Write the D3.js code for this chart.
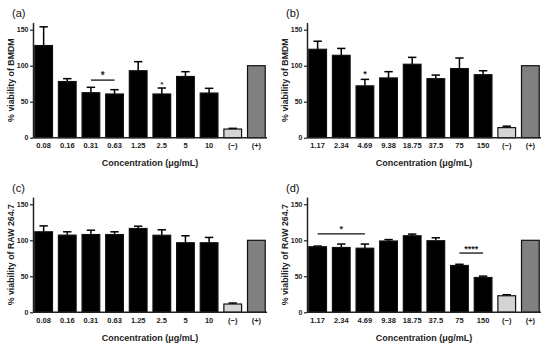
<!DOCTYPE html>
<html>
<head>
<meta charset="utf-8">
<script src="https://cdn.jsdelivr.net/npm/d3@7/dist/d3.min.js"></script>
<style>
  body { margin: 0; background: #fff; }
  svg { display: block; font-family: "Liberation Sans", Arial, sans-serif; }
</style>
</head>
<body>
<script>
// categories
var concLow = ["0.08", "0.16", "0.31", "0.63", "1.25", "2.5", "5", "10", "(\u2212)", "(+)"];
var concHigh = ["1.17", "2.34", "4.69", "9.38", "18.75", "37.5", "75", "150", "(\u2212)", "(+)"];
var yTicks = [0, 50, 100, 150];

// (a) BMDM, low concentrations
var meanA = [128, 78, 62.5, 60.7, 93, 60.7, 85, 62, 12, 100];
var semA  = [26, 4, 7.5, 6, 12.6, 8.3, 6.7, 6.6, 1, 0];
// (b) BMDM, high concentrations
var meanB = [122.8, 114.4, 72, 83, 102, 82, 96, 87.5, 14, 100];
var semB  = [11.2, 9.6, 9, 8.7, 9.6, 5, 14.7, 5.5, 2, 0];
// (c) RAW 264.7, low concentrations
var meanC = [111.8, 107.2, 108, 108, 116.4, 107, 96.6, 96.6, 11.5, 100];
var semC  = [8.2, 4.6, 6, 3.8, 3.2, 7.6, 9.7, 7.4, 1.4, 0];
// (d) RAW 264.7, high concentrations
var meanD = [91, 90, 89, 99, 106.3, 99.4, 65, 48.3, 23, 100];
var semD  = [1, 4.8, 5.8, 2, 2.3, 4.1, 1.7, 1.9, 1.4, 0];

// significance marks (y in % viability)
var sigA = [{from: "0.31", to: "0.63", y: 80, label: "*", size: 10},
            {from: "2.5", to: "2.5", y: 74, label: "*", size: 7}];
var sigB = [{from: "4.69", to: "4.69", y: 88, label: "*", size: 9}];
var sigC = [];
var sigD = [{from: "1.17", to: "4.69", y: 109, label: "*", size: 9},
            {from: "75", to: "150", y: 82.3, label: "****", size: 9}];

var width = 550, height = 345;
var svg = d3.select("body").append("svg")
  .attr("width", width)
  .attr("height", height);

var plotLeft = 33, plotRight = 267, plotTop = 22.5, plotBottom = 137.7;

function fillFor(c) {
  if (c == "(\u2212)") return "#d4d4d4";
  if (c == "(+)") return "#808080";
  return "#000";
}

function drawPanel(dx, dy, tag, cats, means, sems, sigs, yLabel) {
  var g = svg.append("g").attr("transform", "translate(" + dx + "," + dy + ")");

  var x = d3.scaleBand().domain(cats).range([plotLeft, plotRight])
    .paddingInner(0.2).paddingOuter(0.05);
  var y = d3.scaleLinear().domain([0, 160]).range([plotBottom, plotTop]);

  var rows = cats.map(function(c, i) { return {c: c, m: means[i], s: sems[i]}; });

  // error bars (upper only)
  var eb = g.selectAll(".eb").data(rows.filter(function(d) { return d.s > 0; }))
    .enter().append("g").attr("class", "eb");
  eb.append("line")
    .attr("x1", function(d) { return x(d.c) + x.bandwidth() / 2; })
    .attr("x2", function(d) { return x(d.c) + x.bandwidth() / 2; })
    .attr("y1", function(d) { return y(d.m); })
    .attr("y2", function(d) { return y(d.m + d.s); })
    .attr("stroke", "#000").attr("stroke-width", 1.5);
  eb.append("line")
    .attr("x1", function(d) { return x(d.c) + x.bandwidth() / 2 - 4.2; })
    .attr("x2", function(d) { return x(d.c) + x.bandwidth() / 2 + 4.2; })
    .attr("y1", function(d) { return y(d.m + d.s); })
    .attr("y2", function(d) { return y(d.m + d.s); })
    .attr("stroke", "#000").attr("stroke-width", 1.5);

  // bars
  g.selectAll(".bar").data(rows).enter().append("rect")
    .attr("class", "bar")
    .attr("x", function(d) { return x(d.c) + 0.6; })
    .attr("width", x.bandwidth() - 1.2)
    .attr("y", function(d) { return y(d.m); })
    .attr("height", function(d) { return y(0) - y(d.m); })
    .attr("fill", function(d) { return fillFor(d.c); })
    .attr("stroke", "#111")
    .attr("stroke-width", 1.2);

  // y axis
  var ya = g.append("g").attr("transform", "translate(" + plotLeft + ",0)")
    .call(d3.axisLeft(y).tickValues(yTicks).tickSize(3).tickSizeOuter(0).tickPadding(1.5));
  ya.select(".domain").attr("stroke", "#222").attr("stroke-width", 1.5);
  ya.selectAll(".tick line").attr("stroke", "#222").attr("stroke-width", 1.2);
  ya.selectAll(".tick text").attr("font-size", 7).attr("font-weight", "bold").attr("fill", "#222");

  // x axis
  var xa = g.append("g").attr("transform", "translate(0," + y(0) + ")")
    .call(d3.axisBottom(x).tickSize(0).tickPadding(5.3));
  xa.select(".domain").attr("stroke", "#222").attr("stroke-width", 1.5)
    .attr("d", "M" + plotLeft + ",0H" + plotRight);
  xa.selectAll(".tick text").attr("font-size", 7.5).attr("font-weight", "bold").attr("fill", "#222");

  // significance
  sigs.forEach(function(s) {
    var x1 = x(s.from) + x.bandwidth() / 2, x2 = x(s.to) + x.bandwidth() / 2;
    if (s.from != s.to) {
      g.append("line").attr("x1", x1).attr("x2", x2)
        .attr("y1", y(s.y)).attr("y2", y(s.y))
        .attr("stroke", "#111").attr("stroke-width", 1.3);
    }
    g.append("text")
      .attr("x", (x1 + x2) / 2)
      .attr("y", y(s.y) + (s.from != s.to ? -1.5 : 3))
      .attr("text-anchor", "middle")
      .attr("font-size", s.size)
      .attr("font-weight", "bold")
      .attr("fill", "#222")
      .text(s.label);
  });

  // labels
  g.append("text").attr("x", 12).attr("y", 17)
    .attr("font-size", 11).attr("fill", "#111").text(tag);
  g.append("text")
    .attr("transform", "translate(14," + y(80) + ") rotate(-90)")
    .attr("text-anchor", "middle")
    .attr("font-size", 8.8).attr("font-weight", "bold").attr("fill", "#222")
    .text(yLabel);
  g.append("text")
    .attr("x", (plotLeft + plotRight) / 2).attr("y", 166)
    .attr("text-anchor", "middle")
    .attr("font-size", 9).attr("font-weight", "bold").attr("fill", "#222")
    .text("Concentration (\u03bcg/mL)");
}

drawPanel(0, 0, "(a)", concLow, meanA, semA, sigA, "% viability of BMDM");
drawPanel(274, 0, "(b)", concHigh, meanB, semB, sigB, "% viability of BMDM");
drawPanel(0, 174.6, "(c)", concLow, meanC, semC, sigC, "% viability of RAW 264.7");
drawPanel(274, 174.6, "(d)", concHigh, meanD, semD, sigD, "% viability of RAW 264.7");
</script>
</body>
</html>
